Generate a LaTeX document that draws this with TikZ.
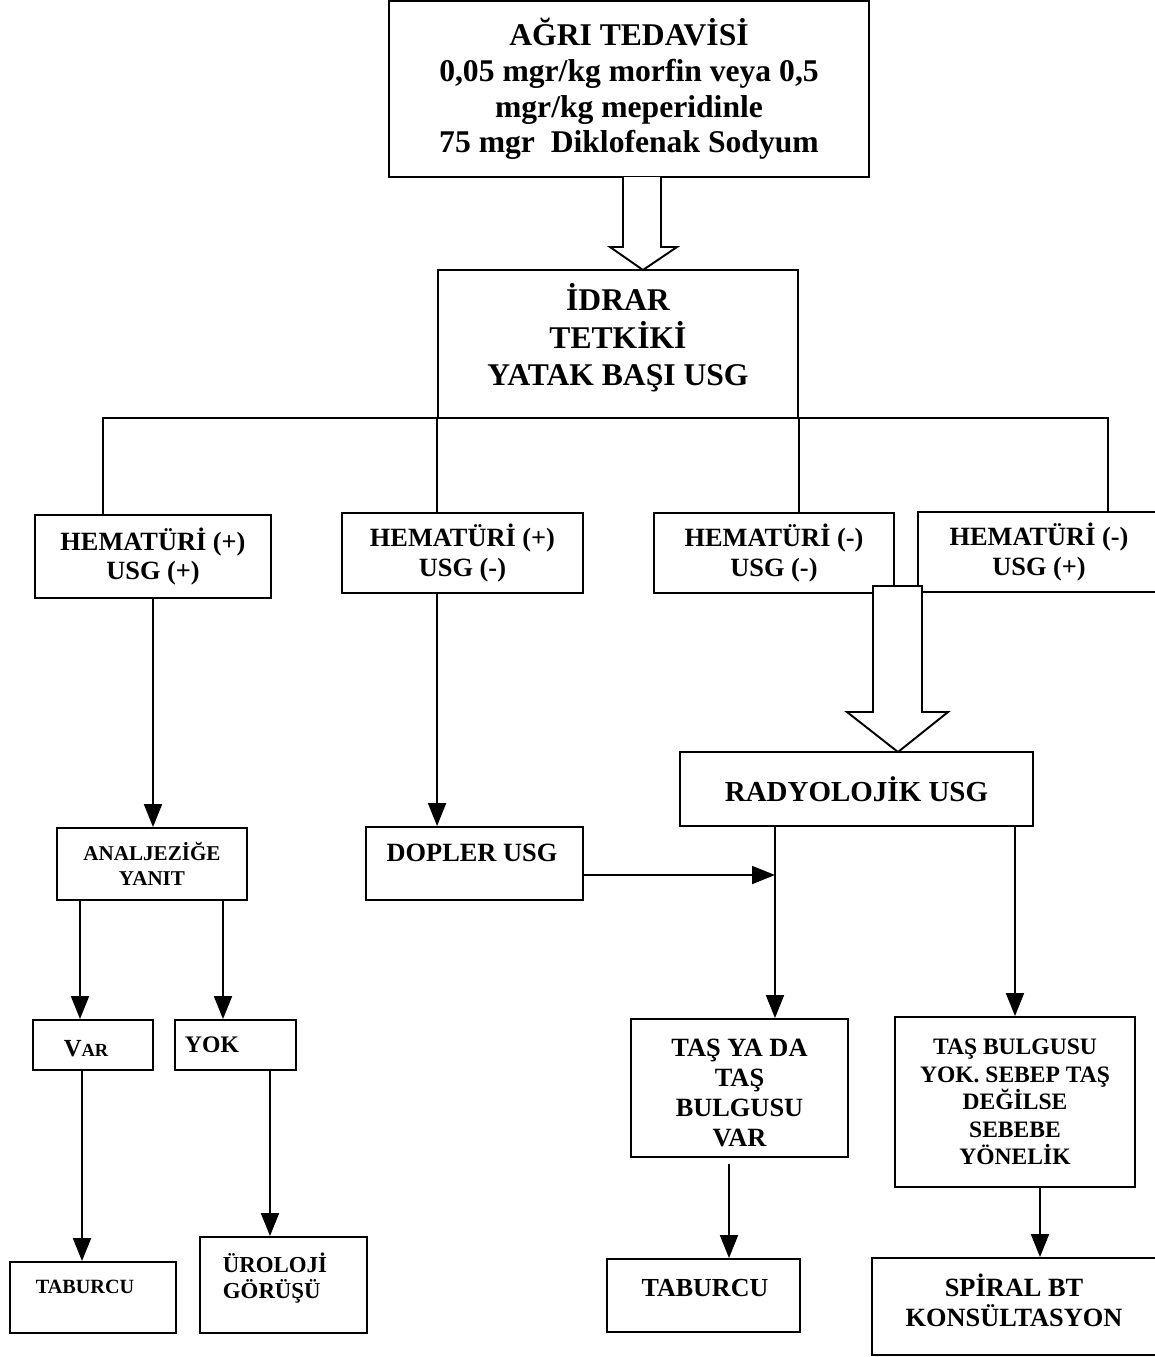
\documentclass[tikz,border=0pt]{standalone}
\usepackage{fontspec}
\setmainfont{Liberation Serif}
\usetikzlibrary{arrows.meta,calc}
\newcommand\bfsize[2]{\fontsize{#1}{#2}\selectfont\bfseries}

\begin{document}
\begin{tikzpicture}[x=0.02cm, y=-0.02cm,
    box/.style={draw, line width=1.1pt, inner sep=0pt, align=center},
    txt/.style={inner sep=0pt, align=center},
    link/.style={line width=1.1pt},
    arr/.style={line width=1.1pt, -{Triangle[length=0.46cm,width=0.36cm]}},
    hollow/.style={draw, line width=1.1pt, fill=white, line join=miter}]
  \useasboundingbox (0,0) rectangle (1154,1357);

  % top: treatment and bedside tests
  \node[box, minimum width=9.6cm, minimum height=3.52cm, font=\bfsize{18}{20.3}] (agri) at (629,89)
    {AĞRI TEDAVİSİ\\0,05 mgr/kg morfin veya 0,5\\mgr/kg meperidinle\\75 mgr~ Diklofenak Sodyum};
  \node[box, minimum width=7.2cm, minimum height=2.96cm] (idrar) at (618,344) {};
  \node[txt, font=\bfsize{18}{21.3}] (idrarT) at (618,338) {İDRAR\\TETKİKİ\\YATAK BAŞI USG};

  % second row: four result groups
  \node[box, minimum width=4.72cm, minimum height=1.66cm, font=\bfsize{15}{17}] (h1) at (153,556.5) {HEMATÜRİ (+)\\USG (+)};
  \node[box, minimum width=4.82cm, minimum height=1.6cm, font=\bfsize{15}{17}] (h2) at (462.5,553) {HEMATÜRİ (+)\\USG (-)};
  \node[box, minimum width=4.8cm, minimum height=1.6cm, font=\bfsize{15}{17}] (h3) at (774,553) {HEMATÜRİ (-)\\USG (-)};
  \node[box, minimum width=4.84cm, minimum height=1.6cm, font=\bfsize{15}{17}] (h4) at (1039,552) {HEMATÜRİ (-)\\USG (+)};

  % left branch
  \node[box, minimum width=3.8cm, minimum height=1.44cm, font=\bfsize{12}{14}] (analj) at (152,864) {ANALJEZİĞE\\YANIT};
  \node[box, minimum width=2.4cm, minimum height=1cm] (var) at (93,1045) {};
  \node[txt] (varT) at (86,1049) {\bfsize{14}{16}V\bfsize{10.5}{12}AR};
  \node[box, minimum width=2.42cm, minimum height=1cm] (yok) at (235.5,1045) {};
  \node[txt, font=\bfsize{13.5}{16}] (yokT) at (212,1045) {YOK};
  \node[box, minimum width=3.32cm, minimum height=1.42cm] (tab1) at (93,1297.5) {};
  \node[txt, font=\bfsize{11.5}{14}] (tab1T) at (85,1287) {TABURCU};
  \node[box, minimum width=3.34cm, minimum height=1.92cm] (uro) at (283.5,1285) {};
  \node[txt, align=left, font=\bfsize{13}{15.3}] (uroT) at (275,1278) {ÜROLOJİ\\GÖRÜŞÜ};

  % middle and right branch
  \node[box, minimum width=4.34cm, minimum height=1.46cm] (dopler) at (474.5,863.5) {};
  \node[txt, font=\bfsize{15}{17}] (doplerT) at (472,853) {DOPLER USG};
  \node[box, minimum width=7.06cm, minimum height=1.48cm, font=\bfsize{16.5}{19}] (radyo) at (856.5,789) {RADYOLOJİK USG};
  \node[box, minimum width=4.34cm, minimum height=2.76cm] (tasvar) at (739.5,1088) {};
  \node[txt, font=\bfsize{15}{17.2}] (tasvarT) at (739.5,1093) {TAŞ YA DA\\TAŞ\\BULGUSU\\VAR};
  \node[box, minimum width=4.8cm, minimum height=3.4cm, font=\bfsize{13.4}{15.6}] (tasyok) at (1015,1102)
    {TAŞ BULGUSU\\YOK. SEBEP TAŞ\\DEĞİLSE\\SEBEBE\\YÖNELİK};
  \node[box, minimum width=3.86cm, minimum height=1.46cm] (tab2) at (703.5,1295.5) {};
  \node[txt, font=\bfsize{14.8}{17}] (tab2T) at (705,1288) {TABURCU};
  \node[box, minimum width=5.76cm, minimum height=1.94cm] (spiral) at (1016,1306.5) {};
  \node[txt, font=\bfsize{15}{17}] (spiralT) at (1014,1300) {SPİRAL BT\\KONSÜLTASYON};

  % hollow arrows
  \draw[hollow] (623,177) -- (623,247) -- (610,247) -- (643,270) -- (677,247) -- (661,247) -- (661,177);
  \draw[hollow] (873,586) -- (873,712) -- (847,712) -- (898,752) -- (948,712) -- (922,712) -- (922,586) -- cycle;

  % tree below the bedside tests
  \coordinate (bl) at (103,418);
  \coordinate (br) at (1108,418);
  \draw[link] (bl |- h1.north) -- (bl) -- (br) -- (br |- h4.north);
  \draw[link] (idrar.south west) -- (idrar.south west |- h2.north);
  \draw[link] (idrar.south east) -- (idrar.south east |- h3.north);

  % arrows
  \coordinate (dj) at (775,875);
  \coordinate (av) at (80,0);
  \coordinate (ay) at (223,0);
  \coordinate (vt) at (82,0);
  \coordinate (yu) at (270,0);
  \coordinate (tt) at (729,0);
  \coordinate (ts) at (1040,0);
  \draw[arr] (h1.south) -- (h1.south |- analj.north);
  \draw[arr] (idrar.south west |- h2.south) -- (idrar.south west |- dopler.north);
  \draw[arr] (dopler.east |- dj) -- (dj);
  \draw[arr] (radyo.south -| dj) -- (dj |- tasvar.north);
  \draw[arr] (radyo.south -| tasyok.north) -- (tasyok.north);
  \draw[arr] (analj.south -| av) -- (var.north -| av);
  \draw[arr] (analj.south -| ay) -- (yok.north -| ay);
  \draw[arr] (var.south -| vt) -- (tab1.north -| vt);
  \draw[arr] (yok.south -| yu) -- (uro.north -| yu);
  \draw[arr] ($(tasvar.south -| tt)+(0,6)$) -- (tab2.north -| tt);
  \draw[arr] (tasyok.south -| ts) -- (spiral.north -| ts);
\end{tikzpicture}
\end{document}
